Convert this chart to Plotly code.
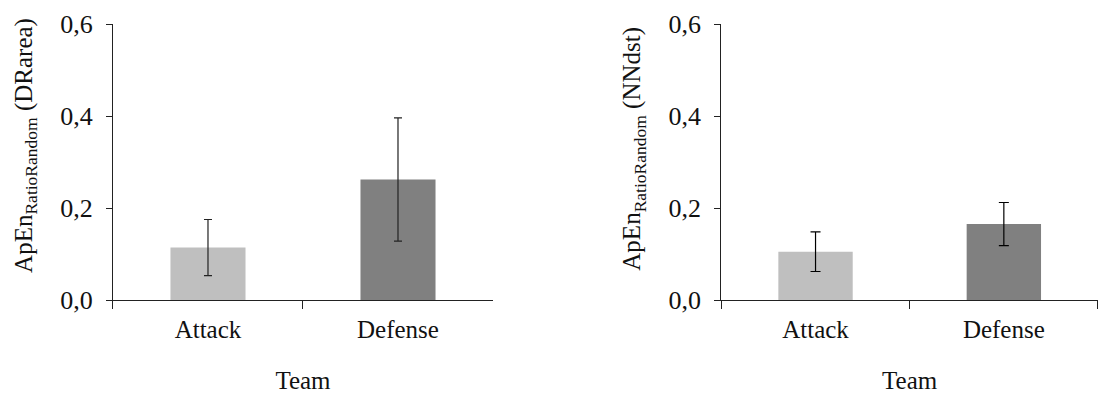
import plotly.graph_objects as go
from plotly.subplots import make_subplots

categories = ["Attack", "Defense"]
drarea_mean = [0.114, 0.262]
drarea_err = [0.061, 0.134]
nndst_mean = [0.105, 0.165]
nndst_err = [0.043, 0.047]
bar_colors = ["#BFBFBF", "#808080"]
y_ticks = [0.0, 0.2, 0.4, 0.6]
y_titles = ["ApEn<sub>RatioRandom</sub> (DRarea)", "ApEn<sub>RatioRandom</sub> (NNdst)"]
x_title = "Team"

FONT = "Liberation Serif"

fig = make_subplots(rows=1, cols=2)

for i, (m, e) in enumerate([(drarea_mean, drarea_err), (nndst_mean, nndst_err)]):
    fig.add_trace(
        go.Bar(
            x=categories, y=m,
            marker=dict(color=bar_colors, line=dict(width=0)),
            error_y=dict(type="data", array=e, visible=True,
                         color="#222222" if i == 0 else "#000000",
                         thickness=1.2, width=4 if i == 0 else 5),
            showlegend=False,
        ),
        row=1, col=i + 1,
    )

fig.update_layout(
    width=1098, height=394,
    margin=dict(l=0, r=0, t=24, b=88),
    paper_bgcolor="white", plot_bgcolor="white",
    separators=",.",
    bargap=0.605,
    font=dict(family=FONT, size=24, color="#111111"),
)

fig.update_xaxes(
    showline=True, linecolor="#222222", linewidth=1.3,
    ticks="outside", tickson="boundaries", ticklen=8, tickcolor="#222222",
    showgrid=False, zeroline=False,
    tickfont=dict(family=FONT, size=25),
    ticklabelstandoff=7,
    title=dict(text=x_title, font=dict(family=FONT, size=25), standoff=33),
)
fig.update_yaxes(
    range=[0, 0.6], tickvals=y_ticks, tickformat=".1f",
    showline=True, linecolor="#222222", linewidth=1.3,
    ticks="outside", ticklen=6, tickcolor="#222222",
    showgrid=False, zeroline=False,
    tickfont=dict(family=FONT, size=26),
    ticklabelstandoff=8,
)
fig.update_xaxes(domain=[0.1029, 0.449], row=1, col=1)
fig.update_xaxes(domain=[0.657, 1.0], row=1, col=2)

title_pos = [(26 / 1098, 1 - 174 / 394), (634 / 1098, 1 - 178 / 394)]
for txt, (px, py) in zip(y_titles, title_pos):
    fig.add_annotation(
        text=txt, xref="paper", yref="paper", x=px, y=py,
        xanchor="center", yanchor="middle", textangle=-90, showarrow=False,
        font=dict(family=FONT, size=25, color="#111111"),
    )

fig.write_html("out.html")
